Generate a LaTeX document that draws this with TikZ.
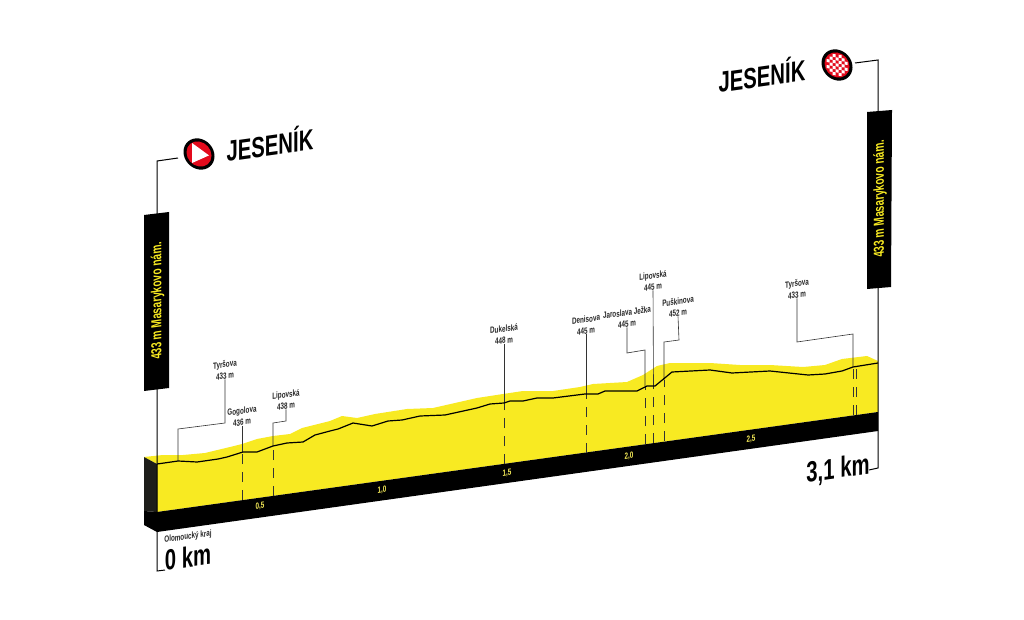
\documentclass[tikz,border=0pt]{standalone}
\usepackage{fontspec}
\setmainfont{Liberation Sans}
\newfontfamily\condfont[FakeStretch=0.7]{Liberation Sans}
\definecolor{stageyellow}{HTML}{F8EA22}
\definecolor{stagered}{HTML}{E30A1C}
\definecolor{sidedark}{HTML}{1E1E1A}
\tikzset{
  slanted/.style={yslant=0.14},
  streetlabel/.style={slanted, align=center, inner sep=0pt, font=\condfont\bfseries\fontsize{9}{11.5}\selectfont, text=black!85},
  kmlabel/.style={slanted, inner sep=0pt, font=\condfont\bfseries\fontsize{9}{11}\selectfont, text=stageyellow!75!white},
  bigkm/.style={slanted, inner sep=0pt, font=\condfont\bfseries\fontsize{29}{30}\selectfont},
  townlabel/.style={slanted, inner sep=0pt, font=\condfont\bfseries\fontsize{29}{30}\selectfont},
  bannertext/.style={cm={0,1,-1,-0.14,(0,0)}, inner sep=0pt, text=stageyellow, font=\condfont\bfseries\fontsize{14.5}{16}\selectfont},
  leader/.style={draw=black!80, line width=0.6pt},
  dashleader/.style={draw=black!80, line width=0.8pt, dash pattern=on 10pt off 8pt},
  post/.style={draw=black, line width=1pt}
}
\begin{document}
\begin{tikzpicture}[x=1pt, y=-1pt]
  \useasboundingbox[fill=white] (0,0) rectangle (1024,620);

  % yellow body
  \fill[stageyellow] (144,457) -- (163,455) -- (183,455) -- (205,453) -- (230,447) -- (242,444)
    -- (257,439) -- (273,436) -- (290,434) -- (302,428) -- (330,421) -- (342,416) -- (357,418)
    -- (375,414) -- (407,409) -- (433,408) -- (477,398) -- (503,394) -- (523,391) -- (553,391)
    -- (580,387) -- (593,384) -- (627,382) -- (643,375) -- (657,366) -- (670,363) -- (710,363)
    -- (740,365) -- (770,365) -- (803,367) -- (825,365) -- (842,359) -- (867,356) -- (878,361)
    -- (878,412) -- (157,512) -- (157,464) -- cycle;

  % side and band
  \fill[sidedark] (144,457) -- (157,464) -- (157,512) -- (144,511) -- cycle;
  \fill[black] (144,511) -- (157,512) -- (878,412) -- (878,431) -- (157,532) -- (144,525) -- cycle;

  % posts
  \coordinate (startflag) at (178,158);
  \coordinate (startcorner) at (157,161);
  \coordinate (startfoot) at (157,571);
  \coordinate (startend) at (165,570);
  \coordinate (finishflag) at (855,63);
  \coordinate (finishcorner) at (878,60);
  \coordinate (finishfoot) at (878,468);
  \coordinate (finishend) at (869,470);
  \draw[post] (startflag) -- (startcorner) -- (startfoot) -- (startend);
  \draw[post] (finishflag) -- (finishcorner) -- (finishfoot) -- (finishend);

  % banners
  \fill[black] (144,215) -- (169,212) -- (169,388) -- (144,391) -- cycle;
  \fill[black] (867,112) -- (892,110) -- (891,287) -- (867,289) -- cycle;
  \node[bannertext] (startbanner) at (157.5,301) {433 m Masarykovo nám.};
  \node[bannertext] (finishbanner) at (880,199) {433 m Masarykovo nám.};

  % street labels
  \node[streetlabel] (tyrsovaa) at (225,370) {Tyršova\\433 m};
  \node[streetlabel] (gogolova) at (242,416.5) {Gogolova\\436 m};
  \node[streetlabel] (lipovskaa) at (286,400) {Lipovská\\438 m};
  \node[streetlabel] (dukelska) at (504,334.5) {Dukelská\\448 m};
  \node[streetlabel] (denisova) at (586,325) {Denisova\\445 m};
  \node[streetlabel] (jaroslava) at (627,318) {Jaroslava Ježka\\445 m};
  \node[streetlabel] (lipovskab) at (653,281) {Lipovská\\445 m};
  \node[streetlabel] (puskinova) at (678,307) {Puškinova\\452 m};
  \node[streetlabel] (tyrsovab) at (797,289) {Tyršova\\433 m};

  % solid leaders from the labels to the route
  \draw[leader] (tyrsovaa.south) -- (225,423) -- (178,429) -- (178,461);
  \draw[leader] (gogolova.south) -- (242,452);
  \draw[leader] (lipovskaa.south) -- (286,421) -- (273,423) -- (273,446);
  \draw[leader] (dukelska.south) -- (504,403);
  \draw[leader] (denisova.south) -- (586,394);
  \draw[leader] (jaroslava.south) -- (627,353) -- (645,350) -- (645,386);
  \draw[leader] (lipovskab.south) -- (653.5,386);
  \draw[leader] (puskinova.south) -- (679,340) -- (664,342) -- (664,380);
  \draw[leader] (tyrsovab.south) -- (797,342) -- (853,334) -- (853,367);

  % dashed leaders under the route
  \foreach \x/\ya/\yb in {242/452/500, 273/446/496, 504/403/464, 586/394/452.5, 645/386/444, 653.5/386/443, 664/380/441, 853/367/415, 856.5/367/414.5} {
    \draw[dashleader] (\x,\yb) -- (\x,\ya);
  }

  % route
  \draw[black, line width=1.2pt, line join=round] (157,464) -- (178,461) -- (197,462) -- (218,459) -- (227,457)
    -- (243,452) -- (257,452) -- (273,446) -- (287,443) -- (303,442) -- (315,435) -- (330,431) -- (338,429)
    -- (353,423) -- (372,426) -- (388,421) -- (402,420) -- (420,416) -- (445,415) -- (477,408) -- (490,404)
    -- (504,403) -- (510,401) -- (523,401) -- (537,398) -- (553,398) -- (585,394) -- (598,394) -- (605,391)
    -- (637,391) -- (647,386) -- (655,386) -- (672,372) -- (710,370) -- (732,373) -- (770,371) -- (808,375)
    -- (825,374) -- (842,371) -- (853,367) -- (878,363);

  % km marks
  \foreach \x/\y/\km in {260/506/{0,5}, 382/490/{1,0}, 507/473/{1,5}, 629/456/{2,0}, 751/439/{2,5}} {
    \node[kmlabel] (km\x) at (\x,\y) {\km};
  }
  \node[streetlabel] (region) at (188,537) {Olomoucký kraj};
  \node[bigkm] (kmzero) at (188,557) {0 km};
  \node[bigkm] (kmend) at (838,470) {3,1 km};

  % town names
  \node[townlabel] (starttown) at (270,143) {JESENÍK};
  \node[townlabel] (finishtown) at (762,74) {JESENÍK};

  % start icon
  \begin{scope}[shift={(199,154)}, yslant=-0.14]
    \fill[black] (0,0) circle (15.5pt);
    \fill[stagered] (0,0) circle (12.5pt);
    \fill[white] (-7,-10) -- (10,0) -- (-7,10) -- cycle;
  \end{scope}

  % finish icon
  \begin{scope}[shift={(837,65)}, yslant=-0.14]
    \fill[black] (0,0) circle (15.5pt);
    \fill[stagered] (0,0) circle (12.5pt);
    \foreach \i in {-3,...,3} {
      \foreach \j in {-3,...,3} {
        \pgfmathparse{int(mod(\i+\j+6,2)==0 && (\i*\i+\j*\j)<13)}
        \ifnum\pgfmathresult=1
          \fill[white] (\i*3-1.5,\j*3-1.5) rectangle ++(3,3);
        \fi
      }
    }
  \end{scope}
\end{tikzpicture}
\end{document}
